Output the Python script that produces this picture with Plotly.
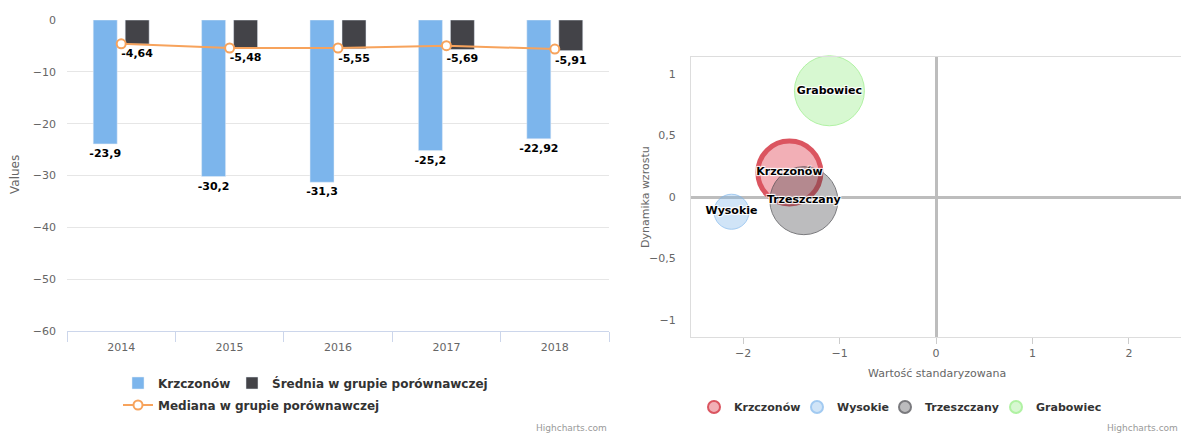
import plotly.graph_objects as go

# ---------------- data ----------------
years = ["2014", "2015", "2016", "2017", "2018"]
krzczonow = [-23.9, -30.2, -31.3, -25.2, -22.92]
srednia = [-4.64, -5.48, -5.55, -5.69, -5.91]
mediana = [-4.6, -5.4, -5.4, -4.95, -5.6]

gminy = ["Krzczonów", "Wysokie", "Trzeszczany", "Grabowiec"]
wartosc_std = [-1.52, -2.12, -1.37, -1.105]
dynamika = [0.2, -0.12, -0.03, 0.865]
wielkosc = [63, 35, 68, 70]

y_ticks_left = [0, -10, -20, -30, -40, -50, -60]
x_ticks_right = [-2, -1, 0, 1, 2]
y_ticks_right = [1, 0.5, 0, -0.5, -1]

# ---------------- styling ----------------
W, H = 1181, 434
FONT = "Lucida Grande, DejaVu Sans, sans-serif"
bubble_fill = ["rgba(220,30,50,0.5)", "rgba(124,181,236,0.5)",
               "rgba(67,67,72,0.5)", "rgba(144,237,125,0.5)"]
bubble_line = ["#cc0e1e", "#7cb5ec", "#434348", "#90ed7d"]
bubble_lw = [5, 1, 1, 1]
bubble_legends = ["legend2", "legend5", "legend6", "legend7"]
bubble_legend_x = [694, 797, 885, 996]   # pixel x of each legend box


def px_x(p):
    return p / W


def px_y(p):
    return 1 - p / H


def fmt(v):
    return ("%g" % v).replace(".", ",")


fig = go.Figure()

# left chart
fig.add_trace(go.Bar(
    x=years, y=krzczonow, name="Krzczonów", marker_color="#7cb5ec",
    text=[fmt(v) for v in krzczonow], textposition="outside",
    textfont=dict(family=FONT, size=11, color="#000000", weight="bold"),
    constraintext="none", cliponaxis=False, legend="legend", showlegend=True,
    xaxis="x", yaxis="y"))
fig.add_trace(go.Bar(
    x=years, y=srednia, name="Średnia w grupie porównawczej", marker_color="#434348",
    text=[fmt(v) for v in srednia], textposition="outside",
    textfont=dict(family=FONT, size=11, color="#000000", weight="bold"),
    constraintext="none", cliponaxis=False, legend="legend3", showlegend=True,
    xaxis="x", yaxis="y"))
fig.add_trace(go.Scatter(
    x=years, y=mediana, name="Mediana w grupie porównawczej", mode="lines+markers",
    line=dict(color="#f7a35c", width=2),
    marker=dict(symbol="circle", size=9, color="#ffffff",
                line=dict(color="#f7a35c", width=2)),
    legend="legend4", showlegend=True, xaxis="x", yaxis="y"))

# right chart: bubbles
for i, g in enumerate(gminy):
    fig.add_trace(go.Scatter(
        x=[wartosc_std[i]], y=[dynamika[i]], name=g, mode="markers",
        marker=dict(size=[wielkosc[i]], sizemode="diameter", sizeref=1,
                    color=bubble_fill[i],
                    line=dict(color=bubble_line[i], width=bubble_lw[i])),
        cliponaxis=False, legend=bubble_legends[i], showlegend=True,
        xaxis="x2", yaxis="y2"))

# bubble labels on top of all bubbles
fig.add_trace(go.Scatter(
    x=wartosc_std, y=dynamika, text=gminy, mode="text",
    textposition="middle center",
    textfont=dict(family=FONT, size=11, color="#000000", weight="bold",
                  shadow="1px 1px 1px #fff, -1px -1px 1px #fff, 1px -1px 1px #fff, -1px 1px 1px #fff"),
    showlegend=False, cliponaxis=False, xaxis="x2", yaxis="y2"))

axis_font = dict(family=FONT, size=11, color="#666666")
legend_font = dict(family=FONT, size=12, color="#333333", weight="bold")
legend_font_r = dict(family=FONT, size=11, color="#333333", weight="bold")


def leg(xp, yp, font, **kw):
    return dict(orientation="h", x=px_x(xp), y=px_y(yp), xanchor="left",
                yanchor="middle", font=font, bgcolor="rgba(0,0,0,0)", **kw)


layout_legends = {
    "legend": leg(118, 383, legend_font),
    "legend3": leg(232, 383, legend_font),
    "legend4": leg(118, 405, legend_font),
}
for i, name in enumerate(bubble_legends):
    layout_legends[name] = leg(bubble_legend_x[i], 407, legend_font_r,
                               itemsizing="constant")

fig.update_layout(
    width=W, height=H,
    margin=dict(l=0, r=0, t=0, b=0, autoexpand=False),
    paper_bgcolor="#ffffff", plot_bgcolor="#ffffff",
    separators=", ",
    font=dict(family=FONT),
    hovermode=False,
    showlegend=True,
    barmode="group", bargap=0.41, bargroupgap=0.25,
    xaxis=dict(domain=[px_x(67), px_x(609)], anchor="y", type="category",
               range=[-0.5, 4.5], showgrid=False, showline=True,
               linecolor="#ccd6eb", linewidth=1, ticks="outside",
               tickson="boundaries", ticklen=10, tickcolor="#ccd6eb",
               ticklabelstandoff=6,
               tickfont=axis_font, fixedrange=True, automargin=False),
    yaxis=dict(domain=[px_y(331), px_y(20)], anchor="x", range=[-60, 0],
               tickvals=y_ticks_left, showgrid=True, gridcolor="#e6e6e6",
               zeroline=False, showline=False, ticks="",
               ticklabelstandoff=10, tickfont=axis_font, fixedrange=True,
               automargin=False),
    xaxis2=dict(domain=[px_x(691), 1.0], anchor="y2", range=[-2.54, 2.54],
                tickvals=x_ticks_right, showgrid=False, zeroline=True,
                zerolinecolor="#bdbdbd", zerolinewidth=2.5,
                showline=True, mirror=True, linecolor="#dddddd", linewidth=1,
                ticks="outside", ticklen=6, tickcolor="#cccccc",
                tickfont=axis_font, fixedrange=True, automargin=False),
    yaxis2=dict(domain=[px_y(337), px_y(57)], anchor="x2", range=[-1.14, 1.14],
                tickvals=y_ticks_right, showgrid=False, zeroline=True,
                zerolinecolor="#bdbdbd", zerolinewidth=2.5,
                showline=True, mirror=True, linecolor="#dddddd", linewidth=1,
                ticks="", ticklabelstandoff=12,
                tickfont=axis_font, fixedrange=True, automargin=False),
    annotations=[
        dict(text="Values", x=px_x(15), y=px_y(175), xref="paper", yref="paper",
             xanchor="center", yanchor="middle",
             textangle=-90, showarrow=False,
             font=dict(family=FONT, size=12, color="#666666")),
        dict(text="Wartość standaryzowana", x=px_x(937), y=px_y(373),
             xref="paper", yref="paper", xanchor="center", yanchor="middle",
             showarrow=False,
             font=dict(family=FONT, size=11, color="#666666")),
        dict(text="Dynamika wzrostu", x=px_x(645), y=px_y(197),
             xref="paper", yref="paper", xanchor="center", yanchor="middle",
             textangle=-90, showarrow=False,
             font=dict(family=FONT, size=11, color="#666666")),
        dict(text="Highcharts.com", x=px_x(609), y=px_y(428), xref="paper",
             yref="paper", xanchor="right", yanchor="middle", showarrow=False,
             font=dict(family=FONT, size=9, color="#999999")),
        dict(text="Highcharts.com", x=px_x(1180), y=px_y(428), xref="paper",
             yref="paper", xanchor="right", yanchor="middle", showarrow=False,
             font=dict(family=FONT, size=9, color="#999999")),
    ],
    **layout_legends,
)

fig.write_html("out.html", config={"displayModeBar": False},
               post_script="document.body.style.margin='0';document.body.style.overflow='hidden';")
